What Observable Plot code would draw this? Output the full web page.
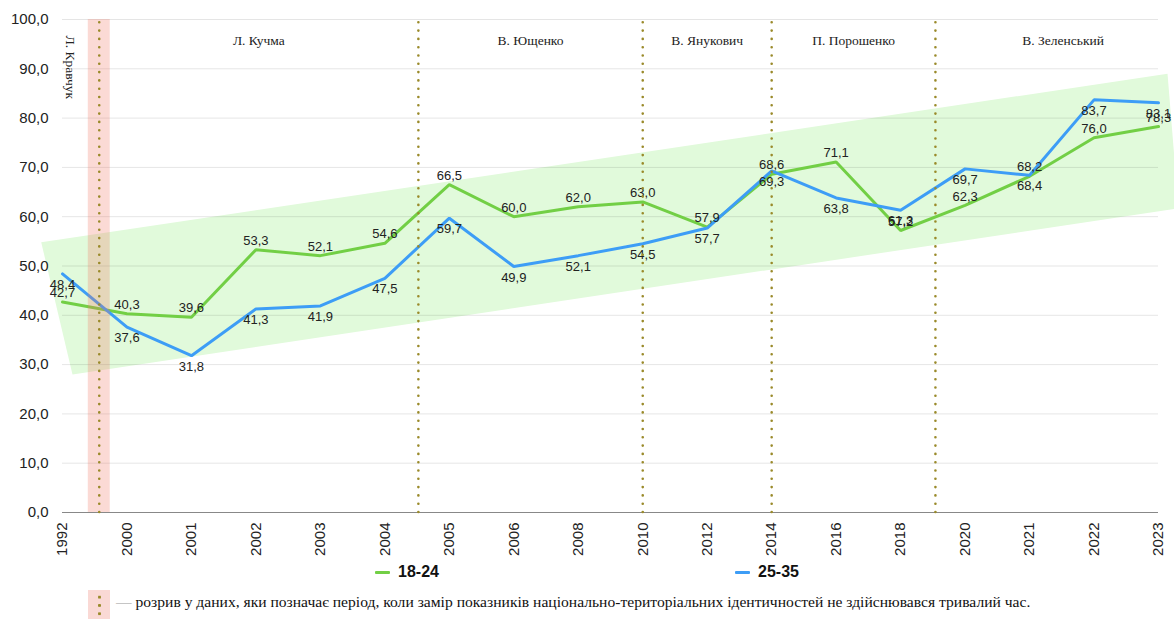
<!DOCTYPE html>
<html>
<head>
<meta charset="utf-8">
<script src="https://cdn.jsdelivr.net/npm/d3@7"></script>
<script src="https://cdn.jsdelivr.net/npm/@observablehq/plot@0.6"></script>
<style>
  body { margin: 0; background: #fff; font-family: "Liberation Sans", Arial, sans-serif; }
  #wrap { position: relative; width: 1174px; }
  #legend { position: relative; height: 28px; }
  .lg { position: absolute; top: 3px; font-weight: bold; font-size: 16px; color: #111; display: flex; align-items: center; }
  .sw { display: inline-block; width: 15px; height: 3px; margin-right: 8px; border-radius: 1px; }
  #note { position: relative; height: 31px; }
  #gapbox { position: absolute; left: 88px; top: 2px; width: 22px; height: 29px; background: #fad9d5; }
  #gapbox .dots { position: absolute; left: 10px; top: 3px; width: 2.5px; height: 26px;
    background-image: radial-gradient(circle, #9a8a2a 1.2px, transparent 1.4px);
    background-size: 2.5px 8.3px; }
  #notetext { position: absolute; left: 116px; top: 5px; font-family: "Liberation Serif", "Times New Roman", serif; font-size: 15.6px; color: #111; white-space: nowrap; }
  #notetext .dash { color: #999; }
</style>
</head>
<body>
<div id="wrap">
  <div id="chart"></div>
  <div id="legend">
    <div class="lg" style="left:375px"><span class="sw" style="background:#72cf45"></span>18-24</div>
    <div class="lg" style="left:735px"><span class="sw" style="background:#3d9df6"></span>25-35</div>
  </div>
  <div id="note">
    <div id="gapbox"><div class="dots"></div></div>
    <div id="notetext"><span class="dash">—</span> розрив у даних, яки позначає період, коли замір показників національно-територіальних ідентичностей не здійснювався тривалий час.</div>
  </div>
</div>
<script>
// ---- data ----
const years = ["1992","2000","2001","2002","2003","2004","2005","2006","2008","2010","2012","2014","2016","2018","2020","2021","2022","2023"];
const age18_24 = [42.7,40.3,39.6,53.3,52.1,54.6,66.5,60.0,62.0,63.0,57.9,68.6,71.1,57.2,62.3,68.2,76.0,78.3];
const age25_35 = [48.4,37.6,31.8,41.3,41.9,47.5,59.7,49.9,52.1,54.5,57.7,69.3,63.8,61.3,69.7,68.4,83.7,83.1];
const seriesNames = ["18-24","25-35"];
const yTicks = [0,10,20,30,40,50,60,70,80,90,100];
// presidencies, boundaries in category-index units
const presidents = ["Л. Кравчук","Л. Кучма","В. Ющенко","В. Янукович","П. Порошенко","В. Зеленський"];
const termBoundaries = [0.57, 5.52, 9, 11, 13.54];
// gap in the data (category-index units)
const dataGap = [0.40, 0.74];
// trend band corners (category-index, value)
const trendBandX = [-0.33, 17.14, 17.31, 0.155];
const trendBandY = [54.8, 89.0, 61.7, 28.0];

// ---- build ----
const colors = {"18-24": "#72cf45", "25-35": "#3d9df6"};
const rows = [];
years.forEach((yr, i) => {
  rows.push({i, year: yr, v: age18_24[i], s: "18-24"});
  rows.push({i, year: yr, v: age25_35[i], s: "25-35"});
});
const band = trendBandX.map((x, k) => ({x, y: trendBandY[k]}));
const ends = [0, ...termBoundaries, years.length - 0.5];
const presLabels = presidents.slice(1).map((name, k) => ({name, x: (ends[k+1] + ends[k+2]) / 2}));
const fmt = d => d.toFixed(1).replace(".", ",");

const chart = Plot.plot({
  width: 1174,
  height: 560,
  marginTop: 19,
  marginBottom: 48,
  marginLeft: 62,
  marginRight: 16,
  style: {fontFamily: "'Liberation Sans', Arial, sans-serif", color: "#222", background: "#fff"},
  x: {type: "linear", domain: [0, years.length - 1]},
  y: {domain: [0, 100]},
  marks: [
    Plot.line(band, {x: "x", y: "y", fill: "#e1fadb", stroke: null, curve: "linear-closed"}),
    Plot.ruleY(yTicks.slice(1), {stroke: "#000", strokeOpacity: 0.1}),
    Plot.ruleY([0], {stroke: "#888", strokeWidth: 1.2}),
    Plot.axisY({ticks: yTicks, tickFormat: fmt, tickSize: 0, tickPadding: 14, fontSize: 15, fill: "#222"}),
    Plot.axisX({ticks: d3.range(years.length), tickFormat: i => years[i], tickRotate: -90, tickSize: 0, tickPadding: 10, fontSize: 15, fill: "#222"}),
    Plot.line(rows, {x: "i", y: "v", z: "s", stroke: d => colors[d.s], strokeWidth: 3, strokeLinejoin: "miter"}),
    Plot.text(rows.filter(d => d.s === "18-24"), {x: "i", y: "v", text: d => fmt(d.v), dy: -9, fontSize: 13, fill: "#222"}),
    Plot.text(rows.filter(d => d.s === "25-35"), {x: "i", y: "v", text: d => fmt(d.v), dy: 11, fontSize: 13, fill: "#222"}),
    Plot.rect([dataGap], {x1: d => d[0], x2: d => d[1], y1: 0, y2: 100, fill: "#f07864", fillOpacity: 0.27}),
    Plot.ruleX(termBoundaries, {y1: 0, y2: 100, stroke: "#9a8a2a", strokeWidth: 2.6, strokeDasharray: "0,8.3", strokeLinecap: "round"}),
    Plot.text(presLabels, {x: "x", y: 95.8, text: "name", fontFamily: "'Liberation Serif', 'Times New Roman', serif", fontSize: 13.5, fill: "#222"}),
    Plot.text([presidents[0]], {x: dataGap[0] / 2, y: 90.3, text: d => d, rotate: 90, dx: -5, fontFamily: "'Liberation Serif', 'Times New Roman', serif", fontSize: 13.5, fill: "#222"})
  ]
});
document.getElementById("chart").appendChild(chart);
</script>
</body>
</html>
